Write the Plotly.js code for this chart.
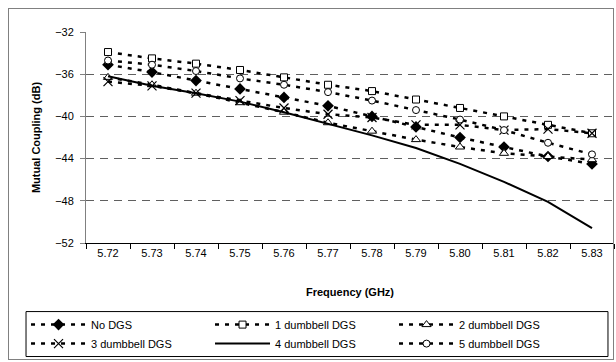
<!DOCTYPE html>
<html>
<head>
<meta charset="utf-8">
<script src="https://cdn.plot.ly/plotly-3.0.1.min.js"></script>
<style>
html,body{margin:0;padding:0;background:#fff;}
#wrap{position:relative;width:616px;height:362px;}
#chart{width:616px;height:362px;}
#frame{position:absolute;left:8px;top:8px;width:606px;height:352px;border:1px solid #808080;box-sizing:border-box;pointer-events:none;}
</style>
</head>
<body>
<div id="wrap"><div id="chart"></div><div id="frame"></div></div>
<script>
const freqs = ['5.72','5.73','5.74','5.75','5.76','5.77','5.78','5.79','5.80','5.81','5.82','5.83'];
const noDGS = [-35.1,-35.8,-36.6,-37.4,-38.2,-39.0,-40.0,-41.0,-42.0,-42.9,-43.8,-44.5];
const dgs1  = [-33.9,-34.5,-35.0,-35.6,-36.3,-37.0,-37.6,-38.4,-39.2,-40.0,-40.8,-41.6];
const dgs2  = [-36.3,-37.0,-37.8,-38.7,-39.6,-40.6,-41.4,-42.2,-42.9,-43.5,-43.8,-44.1];
const dgs3  = [-36.7,-37.1,-37.8,-38.5,-39.2,-39.8,-40.1,-40.8,-40.8,-41.3,-41.2,-41.6];
const dgs4  = [-36.2,-37.1,-37.8,-38.6,-39.6,-40.7,-41.8,-43.0,-44.5,-46.2,-48.1,-50.6];
const dgs5  = [-34.7,-35.1,-35.7,-36.4,-37.0,-37.7,-38.5,-39.4,-40.3,-41.3,-42.5,-43.6];
const names = ['No DGS','1 dumbbell DGS','2 dumbbell DGS','3 dumbbell DGS','4 dumbbell DGS','5 dumbbell DGS'];
const gridVals = [-36,-40,-44,-48];

const dashed = {color:'#000', width:2.5, dash:'4px,6px'};
function tr(y, name, marker, line){
  const t = {x:freqs, y:y, name:name, type:'scatter', mode: marker ? 'lines+markers' : 'lines',
          line: line || dashed, cliponaxis:false};
  if (marker) t.marker = marker;
  return t;
}
const data = [
  tr(noDGS, names[0], {symbol:'diamond', size:9, color:'#000'}),
  tr(dgs1, names[1], {symbol:'square', size:7, color:'#fff', line:{color:'#000', width:1}}),
  tr(dgs2, names[2], {symbol:'triangle-up', size:8, color:'#fff', line:{color:'#000', width:1}}),
  tr(dgs3, names[3], {symbol:'x-thin-open', size:9, color:'#000', line:{color:'#000', width:1.2}}),
  tr(dgs4, names[4], null, {color:'#000', width:2}),
  tr(dgs5, names[5], {symbol:'circle', size:7, color:'#fff', line:{color:'#000', width:1}})
];
data.push({x:[freqs[0]], y:[-40], yaxis:'y2', type:'scatter', mode:'markers', marker:{opacity:0}, showlegend:false, hoverinfo:'skip'});

const font = {family:'Liberation Sans, Arial, sans-serif', size:11, color:'#000'};
const layout = {
  width:616, height:362,
  margin:{l:86, r:2, t:32, b:119, autoexpand:false},
  paper_bgcolor:'#fff', plot_bgcolor:'#fff',
  font:font,
  showlegend:true,
  xaxis:{
    type:'category', range:[-0.5, 11.5], tickson:'boundaries',
    ticks:'outside', ticklen:5, tickcolor:'#000',
    showline:true, linecolor:'#000', linewidth:1, showgrid:false, zeroline:false,
    tickfont:{family:font.family, size:11, color:'#000'},
    title:{text:'<b>Frequency (GHz)</b>', font:{family:font.family, size:11, color:'#000'}, standoff:30},
    fixedrange:true
  },
  yaxis:{
    range:[-52,-32], dtick:4, tick0:-52,
    ticks:'outside', ticklen:5, tickcolor:'#808080', ticklabelstandoff:4,
    showline:true, linecolor:'#808080', linewidth:1, showgrid:false, zeroline:false,
    tickfont:{family:font.family, size:11, color:'#000'},
    title:{text:'<b>Mutual Coupling (dB)</b>', font:{family:font.family, size:11, color:'#000'}, standoff:12},
    fixedrange:true
  },
  yaxis2:{
    overlaying:'y', range:[-52,-32], tickvals:gridVals, showticklabels:false, ticks:'',
    showgrid:true, gridcolor:'#606060', gridwidth:1, griddash:'8px,6px', zeroline:false, showline:false
  },
  shapes:[{type:'rect', xref:'paper', yref:'paper', x0:-0.1136, x1:0.9886, y0:-0.538, y1:-0.325,
           line:{color:'#000', width:1}, fillcolor:'rgba(0,0,0,0)', layer:'above'}],
  legend:{
    orientation:'h', x:-0.1136, xanchor:'left', y:-0.318, yanchor:'top',
    itemwidth:55, entrywidth:114, borderwidth:0, bgcolor:'rgba(0,0,0,0)',
    font:{family:font.family, size:11, color:'#000'}, tracegroupgap:0
  }
};
Plotly.newPlot('chart', data, layout, {staticPlot:true, displayModeBar:false});
</script>
</body>
</html>
